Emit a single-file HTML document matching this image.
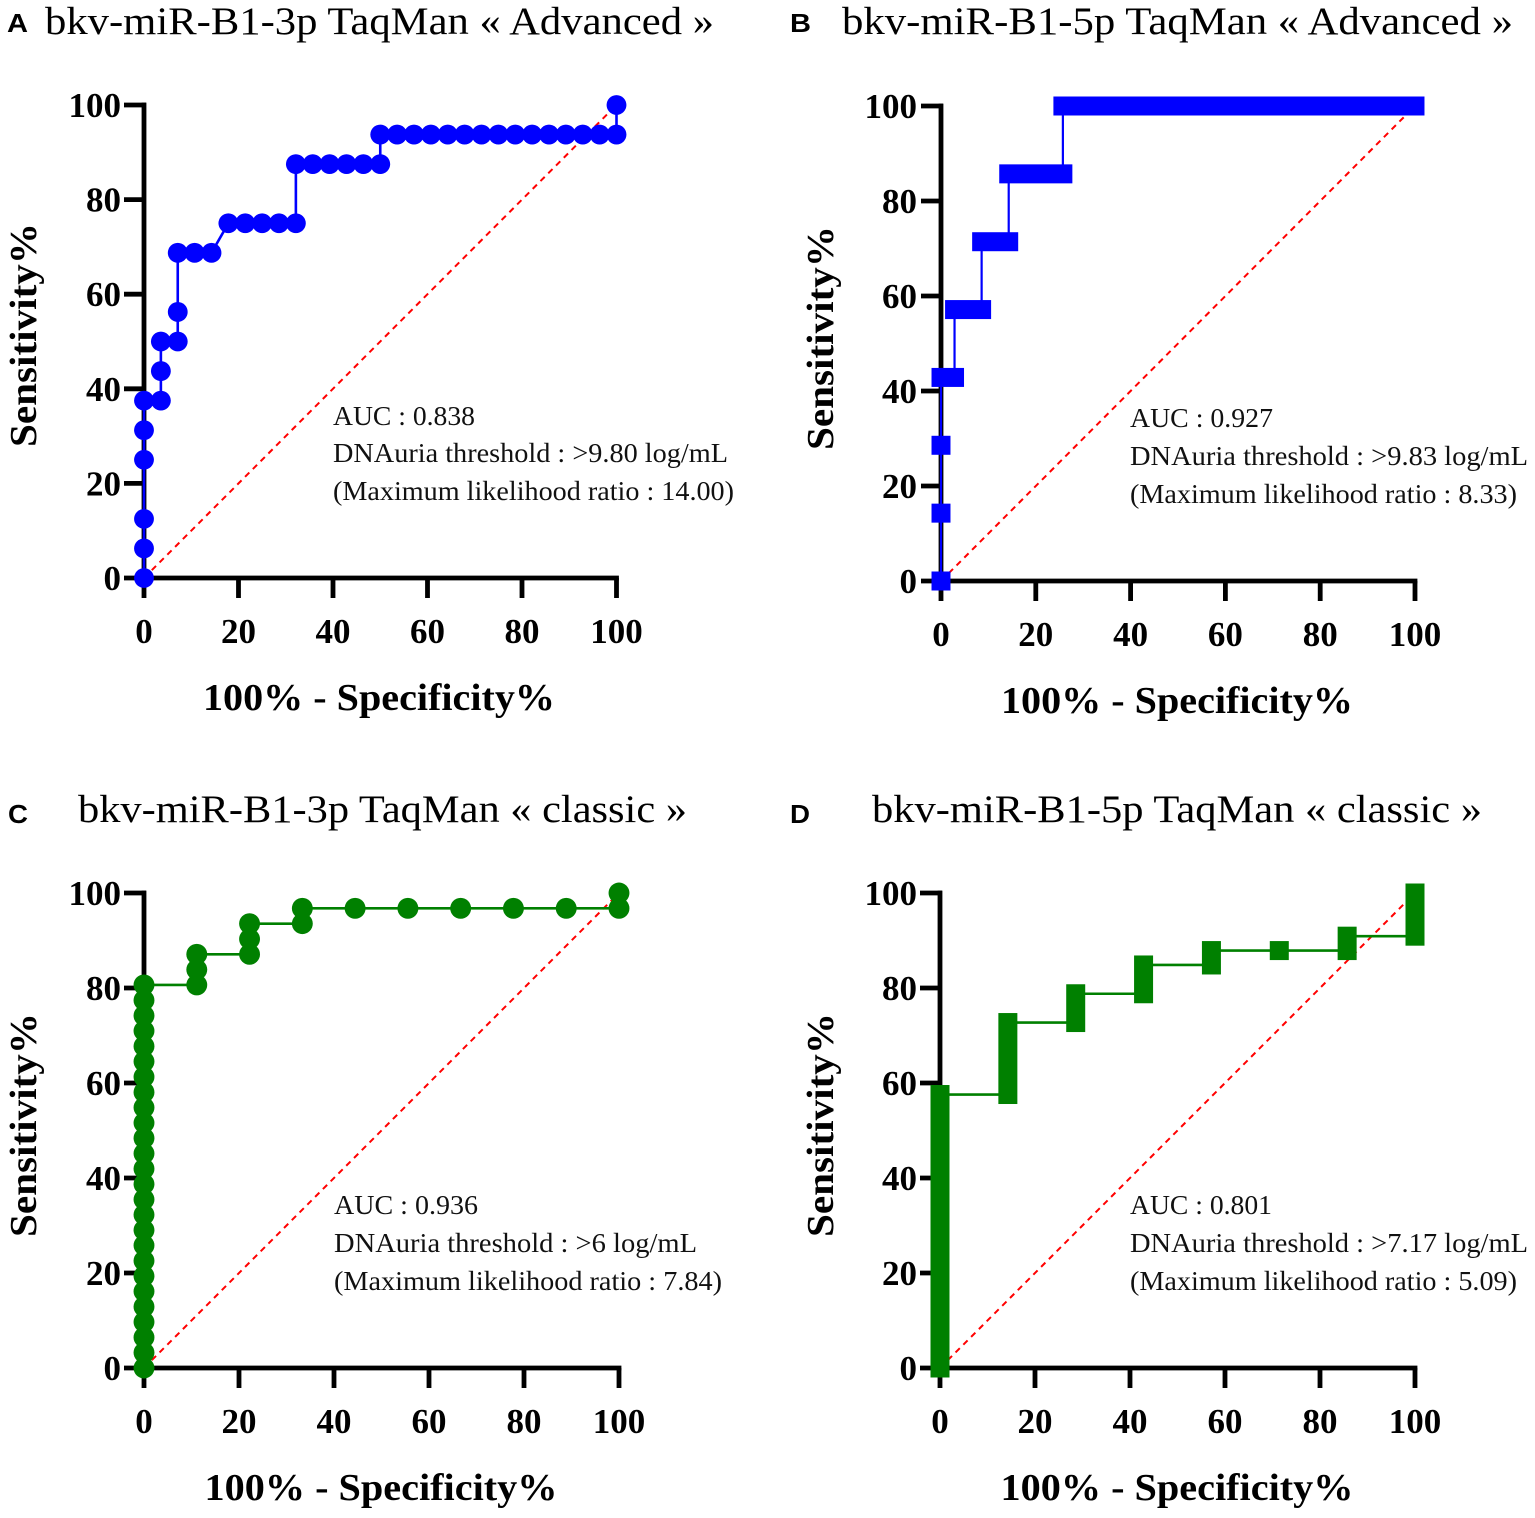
<!DOCTYPE html>
<html>
<head>
<meta charset="utf-8">
<style>
html,body{margin:0;padding:0;background:#fff;}
svg{display:block;}
.s{font-family:"Liberation Serif",serif;}
.sb{font-family:"Liberation Serif",serif;font-weight:bold;}
.ss{font-family:"Liberation Sans",sans-serif;font-weight:bold;}
</style>
</head>
<body>
<svg width="1535" height="1518" viewBox="0 0 1535 1518" xmlns="http://www.w3.org/2000/svg">
<rect width="1535" height="1518" fill="#fff"/>

<!-- ============ PANEL A ============ -->
<text class="ss" x="7" y="32" font-size="26" textLength="21" lengthAdjust="spacingAndGlyphs">A</text>
<text class="s" x="45" y="34" font-size="39" textLength="669" lengthAdjust="spacingAndGlyphs">bkv-miR-B1-3p TaqMan « Advanced »</text>
<g stroke="#000" stroke-width="4.8" fill="none">
<path d="M144,102.6V580.4M141.6,578H618.9"/>
<path d="M124,105H146M124,199.6H144M124,294.2H144M124,388.8H144M124,483.4H144M124,578H144"/>
<path d="M144,578V598M238.5,578V598M333,578V598M427.5,578V598M522,578V598M616.5,578V598"/>
</g>
<g class="sb" font-size="35" text-anchor="end">
<text x="121" y="117">100</text><text x="121" y="211.6">80</text><text x="121" y="306.2">60</text><text x="121" y="400.8">40</text><text x="121" y="495.4">20</text><text x="121" y="590">0</text>
</g>
<g class="sb" font-size="35" text-anchor="middle">
<text x="144" y="643">0</text><text x="238.5" y="643">20</text><text x="333" y="643">40</text><text x="427.5" y="643">60</text><text x="522" y="643">80</text><text x="616.5" y="643">100</text>
</g>
<text class="sb" x="379" y="710" font-size="38" text-anchor="middle" textLength="352" lengthAdjust="spacingAndGlyphs">100% - Specificity%</text>
<text class="sb" transform="translate(36,335) rotate(-90)" x="0" y="0" font-size="38" text-anchor="middle" textLength="224" lengthAdjust="spacingAndGlyphs">Sensitivity%</text>
<line x1="144" y1="578" x2="616.5" y2="105" stroke="#ff0000" stroke-width="2" stroke-dasharray="6,5"/>
<g class="s" font-size="27" fill="#111">
<text x="333" y="425" textLength="142" lengthAdjust="spacingAndGlyphs">AUC : 0.838</text>
<text x="333" y="462" textLength="395" lengthAdjust="spacingAndGlyphs">DNAuria threshold : &gt;9.80 log/mL</text>
<text x="333" y="500" textLength="401" lengthAdjust="spacingAndGlyphs">(Maximum likelihood ratio : 14.00)</text>
</g>
<g transform="translate(144,578) scale(4.725,-4.73)" fill="#0000ff">
<polyline fill="none" stroke="#0000ff" stroke-width="2.6" vector-effect="non-scaling-stroke" points="0,0 0,37.5 3.571,37.5 3.571,50 7.143,50 7.143,68.75 14.286,68.75 17.857,75 32.143,75 32.143,87.5 50,87.5 50,93.75 100,93.75 100,100"/>
<g>
<circle cx="0" cy="0" r="2.1"/><circle cx="0" cy="6.25" r="2.1"/><circle cx="0" cy="12.5" r="2.1"/><circle cx="0" cy="25" r="2.1"/><circle cx="0" cy="31.25" r="2.1"/><circle cx="0" cy="37.5" r="2.1"/>
<circle cx="3.571" cy="37.5" r="2.1"/><circle cx="3.571" cy="43.75" r="2.1"/><circle cx="3.571" cy="50" r="2.1"/>
<circle cx="7.143" cy="50" r="2.1"/><circle cx="7.143" cy="56.25" r="2.1"/><circle cx="7.143" cy="68.75" r="2.1"/>
<circle cx="10.714" cy="68.75" r="2.1"/><circle cx="14.286" cy="68.75" r="2.1"/>
<circle cx="17.857" cy="75" r="2.1"/><circle cx="21.429" cy="75" r="2.1"/><circle cx="25" cy="75" r="2.1"/><circle cx="28.571" cy="75" r="2.1"/><circle cx="32.143" cy="75" r="2.1"/>
<circle cx="32.143" cy="87.5" r="2.1"/><circle cx="35.714" cy="87.5" r="2.1"/><circle cx="39.286" cy="87.5" r="2.1"/><circle cx="42.857" cy="87.5" r="2.1"/><circle cx="46.429" cy="87.5" r="2.1"/><circle cx="50" cy="87.5" r="2.1"/>
<circle cx="50" cy="93.75" r="2.1"/><circle cx="53.571" cy="93.75" r="2.1"/><circle cx="57.143" cy="93.75" r="2.1"/><circle cx="60.714" cy="93.75" r="2.1"/><circle cx="64.286" cy="93.75" r="2.1"/><circle cx="67.857" cy="93.75" r="2.1"/><circle cx="71.429" cy="93.75" r="2.1"/><circle cx="75" cy="93.75" r="2.1"/><circle cx="78.571" cy="93.75" r="2.1"/><circle cx="82.143" cy="93.75" r="2.1"/><circle cx="85.714" cy="93.75" r="2.1"/><circle cx="89.286" cy="93.75" r="2.1"/><circle cx="92.857" cy="93.75" r="2.1"/><circle cx="96.429" cy="93.75" r="2.1"/><circle cx="100" cy="93.75" r="2.1"/>
<circle cx="100" cy="100" r="2.1"/>
</g>
</g>

<!-- ============ PANEL B ============ -->
<text class="ss" x="790" y="32" font-size="26" textLength="21" lengthAdjust="spacingAndGlyphs">B</text>
<text class="s" x="842" y="34" font-size="39" textLength="671" lengthAdjust="spacingAndGlyphs">bkv-miR-B1-5p TaqMan « Advanced »</text>
<g stroke="#000" stroke-width="4.8" fill="none">
<path d="M941,103.6V583.4M938.6,581H1417.4"/>
<path d="M921,106H943M921,201H941M921,296H941M921,391H941M921,486H941M921,581H941"/>
<path d="M941,581V601M1035.8,581V601M1130.6,581V601M1225.4,581V601M1320.2,581V601M1415,581V601"/>
</g>
<g class="sb" font-size="35" text-anchor="end">
<text x="917" y="118">100</text><text x="917" y="213">80</text><text x="917" y="308">60</text><text x="917" y="403">40</text><text x="917" y="498">20</text><text x="917" y="593">0</text>
</g>
<g class="sb" font-size="35" text-anchor="middle">
<text x="941" y="646">0</text><text x="1035.8" y="646">20</text><text x="1130.6" y="646">40</text><text x="1225.4" y="646">60</text><text x="1320.2" y="646">80</text><text x="1415" y="646">100</text>
</g>
<text class="sb" x="1177" y="713" font-size="38" text-anchor="middle" textLength="352" lengthAdjust="spacingAndGlyphs">100% - Specificity%</text>
<text class="sb" transform="translate(833,338) rotate(-90)" x="0" y="0" font-size="38" text-anchor="middle" textLength="224" lengthAdjust="spacingAndGlyphs">Sensitivity%</text>
<line x1="941" y1="581" x2="1415" y2="106" stroke="#ff0000" stroke-width="2" stroke-dasharray="6,5"/>
<g class="s" font-size="27" fill="#111">
<text x="1130" y="427" textLength="143" lengthAdjust="spacingAndGlyphs">AUC : 0.927</text>
<text x="1130" y="465" textLength="398" lengthAdjust="spacingAndGlyphs">DNAuria threshold : &gt;9.83 log/mL</text>
<text x="1130" y="503" textLength="387" lengthAdjust="spacingAndGlyphs">(Maximum likelihood ratio : 8.33)</text>
</g>
<g transform="translate(941,581) scale(4.74,-4.75)" fill="#0000ff">
<polyline fill="none" stroke="#0000ff" stroke-width="2.2" vector-effect="non-scaling-stroke" points="0,0 0,42.857 2.857,42.857 2.857,57.143 8.571,57.143 8.571,71.429 14.286,71.429 14.286,85.714 25.714,85.714 25.714,100 100,100"/>
<rect x="-2" y="-2" width="4" height="4"/>
<rect x="-2" y="12.286" width="4" height="4"/>
<rect x="-2" y="26.571" width="4" height="4"/>
<rect x="-2" y="40.857" width="6.857" height="4"/>
<rect x="0.857" y="55.143" width="9.714" height="4"/>
<rect x="6.571" y="69.429" width="9.715" height="4"/>
<rect x="12.286" y="83.714" width="15.428" height="4"/>
<rect x="23.714" y="98" width="78.286" height="4"/>
</g>

<!-- ============ PANEL C ============ -->
<text class="ss" x="8" y="823" font-size="26" textLength="20" lengthAdjust="spacingAndGlyphs">C</text>
<text class="s" x="78" y="822" font-size="39" textLength="609" lengthAdjust="spacingAndGlyphs">bkv-miR-B1-3p TaqMan « classic »</text>
<g stroke="#000" stroke-width="4.8" fill="none">
<path d="M144,890.6V1370.4M141.6,1368H621.4"/>
<path d="M124,893H146M124,988H144M124,1083H144M124,1178H144M124,1273H144M124,1368H144"/>
<path d="M144,1368V1388M239,1368V1388M334,1368V1388M429,1368V1388M524,1368V1388M619,1368V1388"/>
</g>
<g class="sb" font-size="35" text-anchor="end">
<text x="121" y="905">100</text><text x="121" y="1000">80</text><text x="121" y="1095">60</text><text x="121" y="1190">40</text><text x="121" y="1285">20</text><text x="121" y="1380">0</text>
</g>
<g class="sb" font-size="35" text-anchor="middle">
<text x="144" y="1433">0</text><text x="239" y="1433">20</text><text x="334" y="1433">40</text><text x="429" y="1433">60</text><text x="524" y="1433">80</text><text x="619" y="1433">100</text>
</g>
<text class="sb" x="381" y="1500" font-size="38" text-anchor="middle" textLength="353" lengthAdjust="spacingAndGlyphs">100% - Specificity%</text>
<text class="sb" transform="translate(36,1125) rotate(-90)" x="0" y="0" font-size="38" text-anchor="middle" textLength="224" lengthAdjust="spacingAndGlyphs">Sensitivity%</text>
<line x1="144" y1="1368" x2="619" y2="893" stroke="#ff0000" stroke-width="2" stroke-dasharray="6,5"/>
<g class="s" font-size="27" fill="#111">
<text x="334" y="1214" textLength="144" lengthAdjust="spacingAndGlyphs">AUC : 0.936</text>
<text x="334" y="1252" textLength="363" lengthAdjust="spacingAndGlyphs">DNAuria threshold : &gt;6 log/mL</text>
<text x="334" y="1290" textLength="388" lengthAdjust="spacingAndGlyphs">(Maximum likelihood ratio : 7.84)</text>
</g>
<g transform="translate(144,1368) scale(4.75,-4.75)" fill="#008000">
<polyline fill="none" stroke="#008000" stroke-width="2.6" vector-effect="non-scaling-stroke" points="0,0 0,80.645 11.111,80.645 11.111,87.097 22.222,87.097 22.222,93.548 33.333,93.548 33.333,96.774 100,96.774 100,100"/>
<circle cx="0" cy="0" r="2.2"/><circle cx="0" cy="3.226" r="2.2"/><circle cx="0" cy="6.452" r="2.2"/><circle cx="0" cy="9.677" r="2.2"/><circle cx="0" cy="12.903" r="2.2"/><circle cx="0" cy="16.129" r="2.2"/><circle cx="0" cy="19.355" r="2.2"/><circle cx="0" cy="22.581" r="2.2"/><circle cx="0" cy="25.806" r="2.2"/><circle cx="0" cy="29.032" r="2.2"/><circle cx="0" cy="32.258" r="2.2"/><circle cx="0" cy="35.484" r="2.2"/><circle cx="0" cy="38.710" r="2.2"/><circle cx="0" cy="41.935" r="2.2"/><circle cx="0" cy="45.161" r="2.2"/><circle cx="0" cy="48.387" r="2.2"/><circle cx="0" cy="51.613" r="2.2"/><circle cx="0" cy="54.839" r="2.2"/><circle cx="0" cy="58.065" r="2.2"/><circle cx="0" cy="61.290" r="2.2"/><circle cx="0" cy="64.516" r="2.2"/><circle cx="0" cy="67.742" r="2.2"/><circle cx="0" cy="70.968" r="2.2"/><circle cx="0" cy="74.194" r="2.2"/><circle cx="0" cy="77.419" r="2.2"/><circle cx="0" cy="80.645" r="2.2"/>
<circle cx="11.111" cy="80.645" r="2.2"/><circle cx="11.111" cy="83.871" r="2.2"/><circle cx="11.111" cy="87.097" r="2.2"/>
<circle cx="22.222" cy="87.097" r="2.2"/><circle cx="22.222" cy="90.323" r="2.2"/><circle cx="22.222" cy="93.548" r="2.2"/>
<circle cx="33.333" cy="93.548" r="2.2"/><circle cx="33.333" cy="96.774" r="2.2"/>
<circle cx="44.444" cy="96.774" r="2.2"/><circle cx="55.556" cy="96.774" r="2.2"/><circle cx="66.667" cy="96.774" r="2.2"/><circle cx="77.778" cy="96.774" r="2.2"/><circle cx="88.889" cy="96.774" r="2.2"/>
<circle cx="100" cy="96.774" r="2.2"/><circle cx="100" cy="100" r="2.2"/>
</g>

<!-- ============ PANEL D ============ -->
<text class="ss" x="790" y="823" font-size="26" textLength="20" lengthAdjust="spacingAndGlyphs">D</text>
<text class="s" x="872" y="822" font-size="39" textLength="610" lengthAdjust="spacingAndGlyphs">bkv-miR-B1-5p TaqMan « classic »</text>
<g stroke="#000" stroke-width="4.8" fill="none">
<path d="M940,890.6V1370.4M937.6,1368H1417.4"/>
<path d="M920,893H942M920,988H940M920,1083H940M920,1178H940M920,1273H940M920,1368H940"/>
<path d="M940,1368V1388M1035,1368V1388M1130,1368V1388M1225,1368V1388M1320,1368V1388M1415,1368V1388"/>
</g>
<g class="sb" font-size="35" text-anchor="end">
<text x="917" y="905">100</text><text x="917" y="1000">80</text><text x="917" y="1095">60</text><text x="917" y="1190">40</text><text x="917" y="1285">20</text><text x="917" y="1380">0</text>
</g>
<g class="sb" font-size="35" text-anchor="middle">
<text x="940" y="1433">0</text><text x="1035" y="1433">20</text><text x="1130" y="1433">40</text><text x="1225" y="1433">60</text><text x="1320" y="1433">80</text><text x="1415" y="1433">100</text>
</g>
<text class="sb" x="1177" y="1500" font-size="38" text-anchor="middle" textLength="353" lengthAdjust="spacingAndGlyphs">100% - Specificity%</text>
<text class="sb" transform="translate(833,1125) rotate(-90)" x="0" y="0" font-size="38" text-anchor="middle" textLength="224" lengthAdjust="spacingAndGlyphs">Sensitivity%</text>
<line x1="940" y1="1368" x2="1415" y2="893" stroke="#ff0000" stroke-width="2" stroke-dasharray="6,5"/>
<g class="s" font-size="27" fill="#111">
<text x="1130" y="1214" textLength="142" lengthAdjust="spacingAndGlyphs">AUC : 0.801</text>
<text x="1130" y="1252" textLength="398" lengthAdjust="spacingAndGlyphs">DNAuria threshold : &gt;7.17 log/mL</text>
<text x="1130" y="1290" textLength="387" lengthAdjust="spacingAndGlyphs">(Maximum likelihood ratio : 5.09)</text>
</g>
<g transform="translate(940,1368) scale(4.75,-4.75)" fill="#008000">
<polyline fill="none" stroke="#008000" stroke-width="2.6" vector-effect="non-scaling-stroke" points="0,0 0,57.576 14.286,57.576 14.286,72.727 28.571,72.727 28.571,78.788 42.857,78.788 42.857,84.848 57.143,84.848 57.143,87.879 85.714,87.879 85.714,90.909 100,90.909 100,100"/>
<rect x="-2" y="-2" width="4" height="61.576"/>
<rect x="12.286" y="55.576" width="4" height="19.151"/>
<rect x="26.571" y="70.727" width="4" height="10.061"/>
<rect x="40.857" y="76.788" width="4" height="10.06"/>
<rect x="55.143" y="82.848" width="4" height="7.031"/>
<rect x="69.429" y="85.879" width="4" height="4"/>
<rect x="83.714" y="85.879" width="4" height="7.03"/>
<rect x="98" y="88.909" width="4" height="13.091"/>
</g>
</svg>
</body>
</html>
